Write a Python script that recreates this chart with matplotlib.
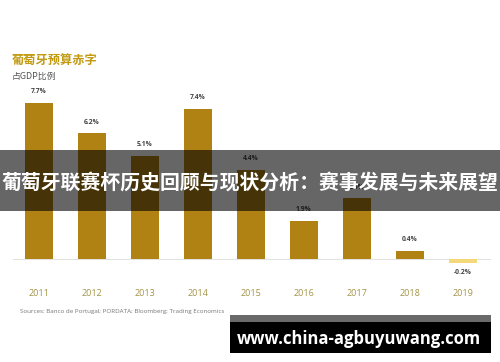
import matplotlib
matplotlib.use("Agg")
import matplotlib.pyplot as plt
from matplotlib.patches import Rectangle

plt.rcParams['font.family'] = ['Noto Sans CJK SC', 'DejaVu Sans']

years = ['2011', '2012', '2013', '2014', '2015', '2016', '2017', '2018', '2019']
deficit = [7.7, 6.2, 5.1, 7.4, 4.4, 1.9, 3.0, 0.4, -0.2]
labels = ['7.7%', '6.2%', '5.1%', '7.4%', '4.4%', '1.9%', '3.0%', '0.4%', '-0.2%']

title = '葡萄牙预算赤字'
subtitle = '占GDP比例'
source = 'Sources: Banco de Portugal; PORDATA; Bloomberg; Trading Economics'
banner = '葡萄牙联赛杯历史回顾与现状分析：赛事发展与未来展望'
watermark = 'www.china-agbuyuwang.com'

W, H = 500, 362
fig = plt.figure(figsize=(W / 100, H / 100), dpi=100)
fig.patch.set_facecolor('white')

# axes placed in pixel terms
ax_left, ax_right, ax_top, ax_bot = 13, 491, 90, 280
ax = fig.add_axes([ax_left / W, 1 - ax_bot / H, (ax_right - ax_left) / W, (ax_bot - ax_top) / H])
ax.set_xlim(-0.49, 8.53)
ax.set_ylim(-1.03, 8.33)
for s in ax.spines.values():
    s.set_visible(False)
ax.set_yticks([])
ax.axhline(0, color='#e2e2e2', lw=0.8, zorder=1)

x = list(range(len(years)))
colors = ['#b08214' if v >= 0 else '#f6d87c' for v in deficit]
ax.bar(x, deficit, width=0.54, color=colors, zorder=2)

for xi, v, lab in zip(x, deficit, labels):
    if v >= 0:
        ax.annotate(lab, (xi, v), xytext=(0, 5.5), textcoords='offset points',
                    ha='center', va='bottom', fontsize=4.9, fontweight='bold',
                    color='#444444', family=['Open Sans', 'DejaVu Sans'])
    else:
        ax.annotate(lab, (xi, v), xytext=(0, -4), textcoords='offset points',
                    ha='center', va='top', fontsize=4.9, fontweight='bold',
                    color='#444444', family=['Open Sans', 'DejaVu Sans'])

ax.set_xticks(x)
ax.set_xticklabels(years, fontsize=6.5, color='#a39446', family=['Open Sans', 'DejaVu Sans'])
ax.tick_params(axis='x', length=0, pad=6.5)

# titles
fig.text(12 / W, 1 - 60 / H, title, fontsize=8.8, fontweight='bold', color='#c19a12',
         ha='left', va='center')
fig.text(12 / W, 1 - 76 / H, subtitle, fontsize=6.4, color='#555555', ha='left', va='center')
fig.text(20 / W, 1 - 312 / H, source, fontsize=4.5, color='#777777', ha='left', va='center',
         family=['Open Sans', 'DejaVu Sans'])

# overlay banner
fig.patches.append(Rectangle((0, 1 - 211 / H), 1, 61 / H, transform=fig.transFigure,
                             facecolor='black', alpha=0.6, edgecolor='none', zorder=10))
fig.text(0.5, 1 - 182 / H, banner, fontsize=14.3, fontweight='bold', color='white',
         ha='center', va='center', zorder=11)

# watermark
fig.patches.append(Rectangle((230 / W, 1 - 322 / H), 261 / W, 7 / H, transform=fig.transFigure,
                             facecolor='#6a6a6a', edgecolor='none', zorder=10))
fig.patches.append(Rectangle((230 / W, 1 - 353 / H), 261 / W, 31 / H, transform=fig.transFigure,
                             facecolor='black', edgecolor='none', zorder=10))
fig.text(359 / W, 1 - 339 / H, watermark, fontsize=12, fontweight='bold', color='white',
         ha='center', va='center', zorder=11, family=['Open Sans', 'DejaVu Sans'])

fig.savefig('out.png', dpi=100, facecolor='white')
